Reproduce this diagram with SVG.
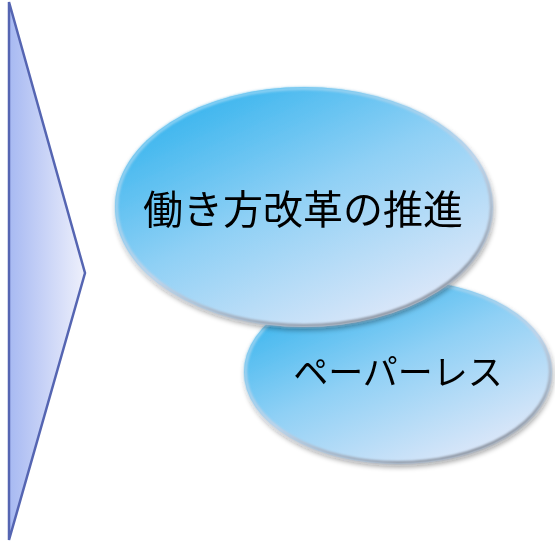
<svg xmlns="http://www.w3.org/2000/svg" width="555" height="545" viewBox="0 0 555 545">
<defs>
<linearGradient id="triFill" x1="0" y1="0" x2="1" y2="0">
<stop offset="0" stop-color="#a7b9f2"/>
<stop offset="1" stop-color="#eef0fc"/>
</linearGradient>
<linearGradient id="ellFill" x1="0.15" y1="0.1" x2="0.8" y2="0.95">
<stop offset="0" stop-color="#3ab5ee"/>
<stop offset="0.45" stop-color="#8fd0f5"/>
<stop offset="1" stop-color="#dfe8f9"/>
</linearGradient>
<linearGradient id="rim" x1="0.2" y1="0" x2="0.8" y2="1">
<stop offset="0" stop-color="#7fd0f6"/>
<stop offset="0.55" stop-color="#c5d3e6"/>
<stop offset="1" stop-color="#7e8590"/>
</linearGradient>
<filter id="shadow" x="-10%" y="-10%" width="125%" height="130%">
<feGaussianBlur in="SourceAlpha" stdDeviation="2.5"/>
<feOffset dx="1" dy="3" result="b"/>
<feComponentTransfer><feFuncA type="linear" slope="0.35"/></feComponentTransfer>
<feMerge><feMergeNode/><feMergeNode in="SourceGraphic"/></feMerge>
</filter>
<filter id="bevel" x="-5%" y="-5%" width="110%" height="110%">
<feGaussianBlur stdDeviation="1.2"/>
</filter>
</defs>
<style>
.lbl{font-family:"Noto Sans CJK JP","Noto Sans",sans-serif;fill:#000;text-anchor:middle}
</style>
<g id="arrow">
<polygon points="9,2 85,273 9,540" fill="url(#triFill)" stroke="#5565b2" stroke-width="2.5" stroke-linejoin="miter"/>
</g>
<g id="connectors"></g>
<g id="node-paperless" filter="url(#shadow)">
<ellipse cx="398" cy="372" rx="154" ry="92" fill="url(#ellFill)"/>
<ellipse cx="398" cy="372" rx="152.5" ry="90.5" fill="none" stroke="url(#rim)" stroke-width="3" filter="url(#bevel)"/>
<text class="lbl" x="398" y="385" font-size="35">ペーパーレス</text>
</g>
<g id="node-workstyle" filter="url(#shadow)">
<ellipse cx="304" cy="207" rx="189" ry="120" fill="url(#ellFill)"/>
<ellipse cx="304" cy="207" rx="187.5" ry="118.5" fill="none" stroke="url(#rim)" stroke-width="3" filter="url(#bevel)"/>
<text class="lbl" x="303" y="224" font-size="40">働き方改革の推進</text>
</g>
</svg>
